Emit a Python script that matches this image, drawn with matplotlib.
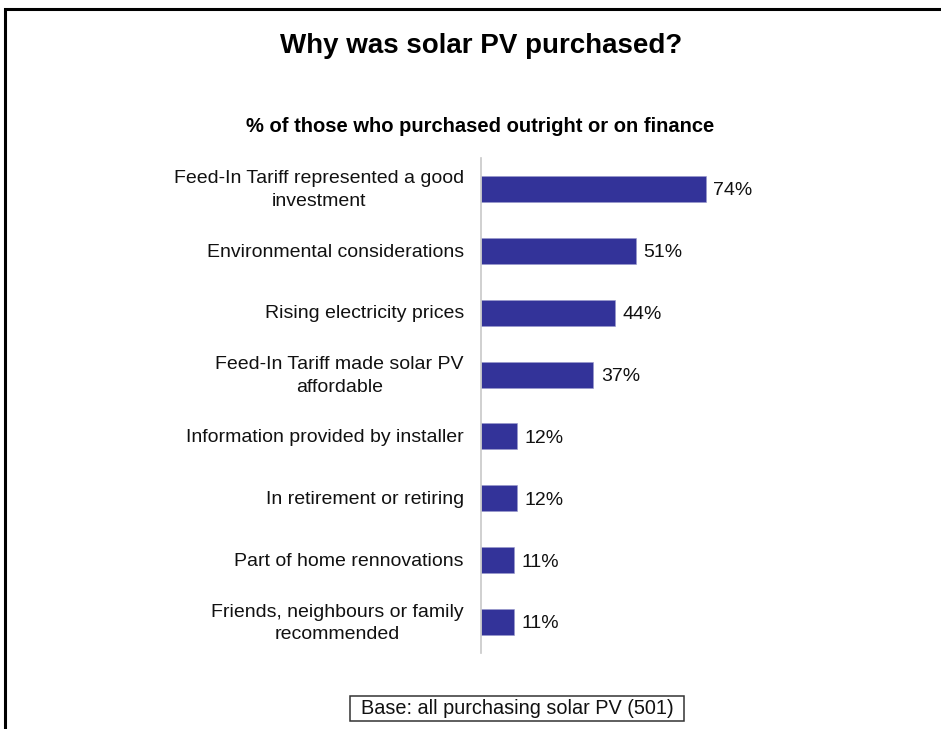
import matplotlib
matplotlib.use("Agg")
import matplotlib.pyplot as plt
from matplotlib.patches import Rectangle

plt.rcParams['font.family'] = ['Liberation Sans', 'DejaVu Sans']

categories = [
    "Feed-In Tariff represented a good\ninvestment",
    "Environmental considerations",
    "Rising electricity prices",
    "Feed-In Tariff made solar PV\naffordable",
    "Information provided by installer",
    "In retirement or retiring",
    "Part of home rennovations",
    "Friends, neighbours or family\nrecommended",
]
values = [74, 51, 44, 37, 12, 12, 11, 11]
value_labels = [f"{v}%" for v in values]

W, H = 941, 729
fig = plt.figure(figsize=(W / 100, H / 100), dpi=100)
fig.patch.set_facecolor("white")

# outer frame (runs off the right and bottom edges)
fig.add_artist(Rectangle((4.5 / W, -0.05), 1.1, (H - 8.5) / H + 0.05,
                         transform=fig.transFigure, fill=False,
                         edgecolor="black", linewidth=2.2))

# axes: x from 481 px to 785 px (0..100%), y covering 158..653 px
left, right = 481, 785
top, bottom = 158, 653
ax = fig.add_axes([left / W, 1 - bottom / H, (right - left) / W, (bottom - top) / H])

ypos = list(range(len(categories)))
ax.barh(ypos, values, height=0.42, color="#333399", edgecolor="#9999cc", linewidth=0.4)
ax.set_xlim(0, 100)
ax.set_ylim(len(categories) - 0.5, -0.5)

for y, v, lab in zip(ypos, values, value_labels):
    ax.text(v + 2.4, y + 0.03, lab, va="center", ha="left", fontsize=14, color="#111111")

for y, lab in zip(ypos, categories):
    ax.text(-5.6, y + 0.02, lab, va="center", ha="right", multialignment="center",
            fontsize=14, color="#111111", linespacing=1.42)

ax.set_xticks([])
ax.set_yticks([])
for s in ["top", "right", "bottom"]:
    ax.spines[s].set_visible(False)
ax.spines["left"].set_color("#c8c8c8")
ax.spines["left"].set_linewidth(1.2)

fig.text(481 / W, 1 - 46 / H, "Why was solar PV purchased?", ha="center", va="center",
         fontsize=20, fontweight="bold", color="black")
fig.text(480 / W, 1 - 127 / H, "% of those who purchased outright or on finance",
         ha="center", va="center", fontsize=14.5, fontweight="bold", color="black")

# base note in a thin box
fig.add_artist(Rectangle((350 / W, 1 - 721 / H), (684 - 350) / W, (721 - 696) / H,
                         transform=fig.transFigure, facecolor="white",
                         edgecolor="#333333", linewidth=1.1))
fig.text(517 / W, 1 - 709 / H, "Base: all purchasing solar PV (501)", ha="center", va="center",
         fontsize=14.3, color="#111111")

fig.savefig("out.png", dpi=100, facecolor="white")
